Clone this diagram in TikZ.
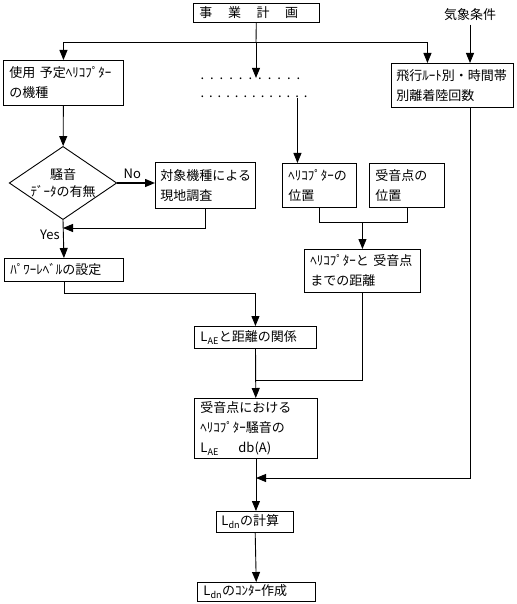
\documentclass[tikz,border=0pt]{standalone}
\usepackage{fontspec}
\setmainfont{Noto Sans CJK JP}
\usetikzlibrary{arrows.meta, shapes.geometric, shadows}

\tikzset{
  box/.style={draw, fill=white, line width=0.9pt, anchor=north west, align=left,
    inner xsep=6pt, inner ysep=0pt,
    drop shadow={shadow xshift=1pt, shadow yshift=-1pt, fill=black, opacity=1}},
  link/.style={line width=0.9pt},
  arr/.style={link, -{Triangle[length=10pt,width=8pt]}},
}

\begin{document}
\begin{tikzpicture}[x=1pt, y=-1pt, every node/.style={font=\fontsize{13}{20}\selectfont}]
  \useasboundingbox (0,0) rectangle (516,604);

  % boxes
  \node[box, text width=114pt, minimum height=19pt] (plan) at (193,3) {事\hspace{1.2em}業\hspace{1.2em}計\hspace{1.2em}画};
  \node[box, text width=108pt, minimum height=45pt] (kishu) at (3,60) {使用 予定ﾍﾘｺﾌﾟﾀｰ\\の機種};
  \node[align=left, inner sep=0pt] (pending) at (254,88) {.\hspace{6pt}.\hspace{6pt}.\hspace{6pt}.\hspace{6pt}.\hspace{6pt}.\hspace{6pt}.\hspace{6pt}.\hspace{6pt}.\hspace{6pt}.\hspace{6pt}.\\[-2pt].\hspace{5pt}.\hspace{5pt}.\hspace{5pt}.\hspace{5pt}.\hspace{5pt}.\hspace{5pt}.\hspace{5pt}.\hspace{5pt}.\hspace{5pt}.\hspace{5pt}.\hspace{5pt}.\hspace{5pt}.};
  \node[box, inner xsep=5pt, text width=112pt, minimum height=44pt] (route) at (391,63) {飛行ﾙｰﾄ別・時間帯\\別離着陸回数};
  \node (kisho) at (470,15) {気象条件};

  \node[diamond, draw, link, aspect=1.47, minimum width=106pt, minimum height=72pt, inner sep=0pt,
    align=center, font=\fontsize{13}{17}\selectfont] (noise) at (63,183) {騒音\\ﾃﾞｰﾀの有無};
  \node[box, inner xsep=5pt, text width=90pt, minimum height=46pt] (survey) at (155,162) {対象機種による\\現地調査};
  \node[box, text width=62pt, minimum height=44pt] (hpos) at (282,163) {ﾍﾘｺﾌﾟﾀｰの\\位置};
  \node[box, text width=63pt, minimum height=44pt] (rpos) at (369,163) {受音点の\\位置};
  \node[box, text width=104pt, minimum height=43pt] (dist) at (304,249) {ﾍﾘｺﾌﾟﾀｰと 受音点\\までの距離};
  \node[box, text width=107pt, minimum height=23pt] (power) at (4,258) {ﾊﾟﾜｰﾚﾍﾞﾙの設定};
  \node[box, text width=110pt, minimum height=22pt] (rel) at (194,326) {L\textsubscript{AE}と距離の関係};
  \node[box, text width=111pt, minimum height=60pt] (level) at (194,398) {受音点における\\ﾍﾘｺﾌﾟﾀｰ騒音の\\L\textsubscript{AE}\hspace{1.5em}db(A)};
  \node[box, inner xsep=5pt, text width=67pt, minimum height=21pt] (calc) at (216,511) {L\textsubscript{dn}の計算};
  \node[box, text width=106pt, minimum height=19pt] (contour) at (197,582) {L\textsubscript{dn}のｺﾝﾀｰ作成};

  % connectors
  \coordinate (split) at (256,42);
  \coordinate (merge) at (256,478);
  \draw[link] (plan) -- (split);
  \draw[arr] (split) -| (kishu);
  \draw[arr] (split) -- (split |- pending.north);
  \draw[arr] (split) -| ([xshift=-25pt]route.north);
  \draw[arr] (kisho) -- (kisho |- route.north);
  \draw[arr] (kisho |- route.south) |- (merge);

  \draw[arr] (kishu) -- (noise);
  \draw[arr, line width=1.4pt] (noise.east) -- node[above, pos=0.4] {No} (noise.east -| survey.west);
  \draw[arr] (survey.south) |- (noise.south |- 0,228);
  \draw[arr] (noise.south) -- node[left, pos=0.4] {Yes} (power.north);
  \draw[arr] (power.south) -- ++(0,12) -| (rel.north);

  \draw[arr] ([xshift=-22pt]hpos.north |- pending.south) -- ([xshift=-22pt]hpos.north);
  \draw[link] (hpos.south) -- ++(0,15) coordinate (hb) -| (rpos.south);
  \draw[arr] (hb -| dist.north) -- (dist.north);
  \draw[link] (dist.south) |- (rel.south |- 0,380);

  \draw[arr] (rel) -- (level);
  \draw[arr] (level.south) -- (level.south |- calc.north);
  \draw[arr] (calc) -- (contour);
\end{tikzpicture}
\end{document}
